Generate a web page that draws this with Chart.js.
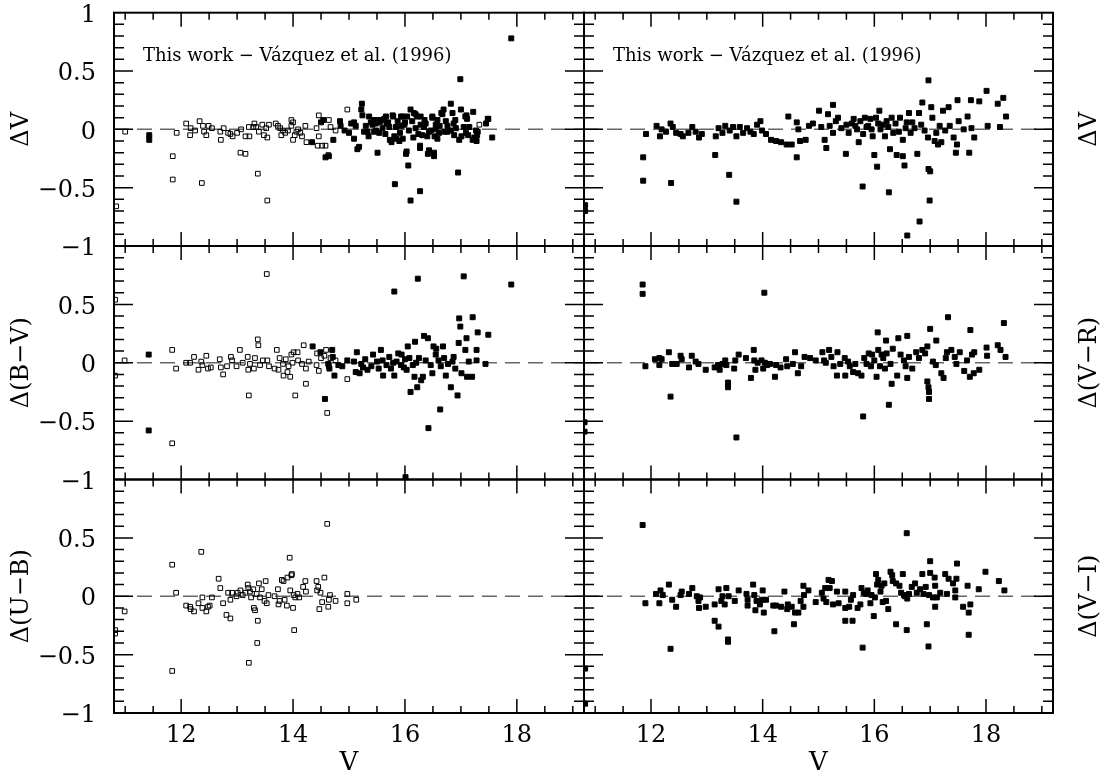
<!DOCTYPE html>
<html>
<head>
<meta charset="utf-8">
<script src="https://cdn.jsdelivr.net/npm/chart.js@4"></script>
<style>
  html, body { margin: 0; padding: 0; background: #fff; }
  #wrap { position: relative; width: 1112px; height: 776px; }
  #wrap canvas { position: absolute; left: 0; top: 0; }
</style>
</head>
<body>
<div id="wrap">
  <canvas id="p1" width="1112" height="776"></canvas>
  <canvas id="p2" width="1112" height="776"></canvas>
  <canvas id="p3" width="1112" height="776"></canvas>
  <canvas id="p4" width="1112" height="776"></canvas>
  <canvas id="p5" width="1112" height="776"></canvas>
  <canvas id="p6" width="1112" height="776"></canvas>
</div>
<script>
// axis ranges and ticks
const xMin = 10.8, xMax = 19.2;
const xMajor = [12, 14, 16, 18];
const xMinor = [11, 11.5, 12.5, 13, 13.5, 14.5, 15, 15.5, 16.5, 17, 17.5, 18.5, 19];
const yMajor = [-0.5, 0, 0.5];
const yMinor = [-0.9, -0.8, -0.7, -0.6, -0.4, -0.3, -0.2, -0.1, 0.1, 0.2, 0.3, 0.4, 0.6, 0.7, 0.8, 0.9];

const noteText = 'This work \u2212 V\u00e1zquez et al. (1996)';
const leftTitles = ['\u0394V', '\u0394(B\u2212V)', '\u0394(U\u2212B)'];
const rightTitles = ['\u0394V', '\u0394(V\u2212R)', '\u0394(V\u2212I)'];
const xTitle = 'V';

// [V, delta] pairs
// top left: Delta V (open = one sample, filled = other)
const dvLeftOpen = [[10.84,-0.66],[11.00,-0.02],[11.85,-0.23],[11.85,-0.43],[11.92,-0.03],[12.09,0.05],[12.16,-0.05],[12.17,0.01],[12.25,-0.01],[12.33,0.07],[12.37,-0.46],[12.39,0.03],[12.41,-0.02],[12.45,-0.05],[12.49,0.03],[12.55,0.01],[12.70,-0.02],[12.71,-0.09],[12.76,0.01],[12.84,-0.03],[12.88,-0.04],[12.92,-0.06],[13.00,-0.03],[13.07,0.0],[13.06,-0.20],[13.15,-0.21],[13.15,-0.06],[13.21,0.02],[13.22,-0.06],[13.29,0.02],[13.31,0.05],[13.34,0.02],[13.37,-0.38],[13.39,-0.02],[13.45,0.04],[13.48,-0.05],[13.52,0.01],[13.54,-0.07],[13.54,-0.61],[13.57,0.04],[13.69,0.05],[13.73,0.03],[13.77,0.01],[13.79,-0.05],[13.82,-0.01],[13.86,-0.03],[13.91,-0.01],[13.97,0.08],[13.97,0.03],[14.00,0.06],[14.00,-0.09],[14.03,-0.05],[14.06,-0.02],[14.09,0.0],[14.13,-0.03],[14.16,-0.06],[14.22,0.03],[14.24,-0.11],[14.42,0.01],[14.46,0.12],[14.46,-0.06],[14.44,-0.14],[14.52,-0.14],[14.58,-0.14],[14.64,0.08],[14.67,0.02],[14.63,-0.22],[14.97,0.17],[14.76,-0.01],[17.33,0.04]];
const dvLeftFilled = [[11.43,-0.05],[11.43,-0.09],[14.34,-0.11],[14.58,-0.24],[14.64,-0.23],[14.72,-0.09],[14.50,0.06],[14.54,0.08],[14.84,0.07],[14.85,0.03],[14.92,-0.01],[15.00,-0.03],[15.04,0.05],[15.09,0.06],[15.12,0.03],[15.09,-0.08],[15.15,-0.17],[15.18,-0.15],[15.22,0.17],[15.23,0.22],[15.24,0.12],[15.27,-0.02],[15.30,0.03],[15.33,-0.02],[15.35,-0.06],[15.36,0.11],[15.39,0.06],[15.42,0.04],[15.45,-0.02],[15.45,0.08],[15.48,-0.01],[15.48,0.05],[15.51,0.08],[15.51,-0.20],[15.54,-0.03],[15.55,0.06],[15.57,0.08],[15.60,0.01],[15.63,0.09],[15.65,-0.04],[15.66,0.11],[15.67,0.05],[15.70,0.06],[15.72,0.02],[15.73,-0.09],[15.76,-0.11],[15.78,0.12],[15.79,0.11],[15.81,-0.06],[15.82,-0.47],[15.84,0.02],[15.85,-0.08],[15.87,0.07],[15.90,-0.10],[15.91,-0.03],[15.93,0.11],[15.94,0.03],[15.96,0.11],[15.96,-0.08],[15.99,0.04],[16.00,0.06],[16.02,-0.21],[16.03,-0.19],[16.04,0.11],[16.06,-0.31],[16.07,-0.01],[16.10,0.17],[16.10,-0.61],[16.13,0.07],[16.15,-0.07],[16.16,0.14],[16.19,0.01],[16.19,0.13],[16.22,0.11],[16.24,-0.04],[16.27,-0.16],[16.27,-0.14],[16.27,-0.53],[16.28,0.04],[16.28,0.11],[16.31,-0.05],[16.34,0.02],[16.35,0.08],[16.37,0.05],[16.40,-0.06],[16.41,-0.21],[16.43,-0.02],[16.43,-0.18],[16.46,-0.01],[16.49,0.11],[16.49,0.10],[16.52,-0.23],[16.52,-0.20],[16.53,-0.06],[16.55,0.04],[16.55,0.0],[16.58,0.08],[16.58,-0.08],[16.61,-0.03],[16.62,0.03],[16.65,0.14],[16.67,0.13],[16.69,0.17],[16.71,-0.02],[16.73,0.07],[16.76,0.03],[16.76,-0.02],[16.82,0.22],[16.82,-0.01],[16.85,0.14],[16.87,0.05],[16.88,-0.05],[16.90,0.08],[16.91,0.01],[16.95,-0.37],[16.97,-0.09],[16.99,0.43],[17.00,0.17],[17.01,-0.06],[17.05,0.02],[17.08,0.11],[17.09,-0.03],[17.10,0.12],[17.11,0.09],[17.13,-0.05],[17.15,0.02],[17.21,-0.09],[17.22,0.15],[17.24,-0.07],[17.27,-0.01],[17.28,-0.10],[17.29,-0.05],[17.30,-0.02],[17.45,0.05],[17.48,0.09],[17.49,0.09],[17.56,-0.07],[17.90,0.78]];

// top right: Delta V
const dvRight = [[10.82,-0.65],[10.82,-0.70],[11.86,-0.24],[11.86,-0.44],[11.91,-0.04],[12.10,0.03],[12.16,-0.06],[12.19,0.0],[12.27,-0.02],[12.35,0.05],[12.36,-0.46],[12.39,0.02],[12.45,-0.03],[12.53,-0.04],[12.57,-0.06],[12.67,-0.03],[12.74,0.02],[12.80,-0.02],[12.86,-0.07],[12.91,-0.04],[13.15,-0.22],[13.16,-0.06],[13.21,0.01],[13.28,-0.03],[13.33,0.03],[13.40,-0.39],[13.41,-0.01],[13.47,0.02],[13.53,-0.62],[13.53,-0.06],[13.59,0.02],[13.65,-0.03],[13.72,0.01],[13.78,-0.02],[13.84,-0.04],[13.90,0.04],[13.96,0.07],[13.99,-0.01],[14.06,-0.04],[14.15,-0.09],[14.24,-0.10],[14.33,-0.11],[14.43,-0.13],[14.46,0.11],[14.52,-0.13],[14.61,-0.24],[14.64,0.0],[14.61,0.06],[14.67,-0.10],[14.77,-0.09],[14.83,0.03],[14.90,0.05],[15.01,0.16],[15.05,0.02],[15.11,-0.09],[15.14,-0.16],[15.17,0.13],[15.20,0.03],[15.26,0.21],[15.26,-0.03],[15.31,0.07],[15.35,0.10],[15.41,0.01],[15.49,-0.21],[15.50,0.04],[15.54,-0.03],[15.60,0.05],[15.63,0.09],[15.66,0.03],[15.69,0.0],[15.72,-0.11],[15.75,0.07],[15.79,-0.49],[15.80,-0.04],[15.83,0.10],[15.86,0.02],[15.89,0.03],[15.93,0.09],[15.95,0.0],[15.97,-0.06],[16.00,-0.22],[16.03,0.10],[16.05,-0.32],[16.07,0.05],[16.09,0.16],[16.11,0.0],[16.15,0.04],[16.19,-0.06],[16.22,0.07],[16.25,0.02],[16.26,-0.54],[16.28,-0.17],[16.31,0.10],[16.34,-0.03],[16.38,0.05],[16.40,-0.22],[16.44,-0.02],[16.46,0.10],[16.51,-0.23],[16.51,-0.09],[16.54,-0.31],[16.56,0.01],[16.58,0.06],[16.59,-0.91],[16.62,0.14],[16.65,-0.03],[16.68,0.06],[16.72,0.01],[16.77,-0.21],[16.80,0.14],[16.81,-0.79],[16.84,0.04],[16.86,0.23],[16.90,-0.01],[16.96,-0.07],[16.97,0.42],[16.97,-0.34],[17.00,-0.36],[16.99,-0.61],[17.02,0.19],[17.04,0.10],[17.08,-0.10],[17.11,-0.03],[17.14,-0.13],[17.17,0.03],[17.20,-0.11],[17.23,0.16],[17.27,-0.01],[17.33,0.19],[17.35,0.03],[17.42,-0.07],[17.46,-0.20],[17.48,-0.13],[17.49,0.25],[17.51,0.07],[17.60,0.0],[17.67,0.11],[17.70,-0.20],[17.73,0.25],[17.74,0.01],[17.79,-0.07],[17.88,0.24],[18.01,0.33],[18.03,0.03],[18.21,0.22],[18.25,0.02],[18.31,0.27],[18.36,0.11]];

// middle left: Delta(B-V)
const dbvOpen = [[10.82,0.54],[10.82,-0.11],[10.99,0.02],[11.84,0.11],[11.84,-0.69],[11.91,-0.05],[12.09,0.0],[12.16,0.0],[12.23,0.05],[12.31,-0.06],[12.36,0.01],[12.38,-0.02],[12.45,0.06],[12.48,-0.05],[12.53,-0.04],[12.69,0.03],[12.71,-0.04],[12.75,-0.10],[12.82,-0.03],[12.89,0.05],[12.91,0.02],[12.99,-0.03],[13.05,0.11],[13.10,0.0],[13.19,0.05],[13.20,-0.06],[13.21,-0.28],[13.23,-0.01],[13.30,-0.05],[13.32,0.04],[13.37,0.20],[13.38,0.15],[13.41,-0.02],[13.46,0.02],[13.53,0.76],[13.54,0.02],[13.57,-0.03],[13.67,-0.05],[13.71,0.11],[13.74,-0.06],[13.76,0.04],[13.82,-0.01],[13.83,-0.11],[13.87,0.03],[13.90,-0.08],[13.92,-0.03],[13.95,-0.12],[13.97,0.07],[13.99,0.0],[14.01,0.09],[14.04,-0.28],[14.08,0.09],[14.09,0.02],[14.16,-0.01],[14.19,0.15],[14.23,-0.18],[14.23,-0.05],[14.28,0.01],[14.42,-0.02],[14.43,0.08],[14.46,-0.07],[14.50,0.04],[14.56,0.06],[14.59,0.11],[14.61,-0.43],[14.64,-0.03],[14.67,0.04],[14.76,0.02],[14.97,-0.14]];
const dbvFilled = [[11.42,0.07],[11.42,-0.58],[14.35,0.14],[14.49,0.09],[14.57,-0.31],[14.63,-0.01],[14.65,-0.05],[14.70,0.11],[14.71,0.05],[14.74,-0.11],[14.81,-0.02],[14.88,-0.03],[14.97,0.02],[15.09,0.01],[15.12,-0.08],[15.14,0.09],[15.19,-0.09],[15.22,-0.01],[15.25,-0.04],[15.29,0.03],[15.33,-0.06],[15.40,-0.03],[15.43,0.07],[15.50,0.01],[15.53,-0.05],[15.57,0.11],[15.60,0.02],[15.61,-0.11],[15.67,-0.02],[15.72,0.05],[15.75,-0.05],[15.79,0.0],[15.81,-0.11],[15.81,0.61],[15.85,0.01],[15.88,0.08],[15.93,-0.02],[15.94,0.07],[15.98,-0.04],[16.00,0.03],[16.01,-0.98],[16.03,-0.06],[16.05,0.14],[16.08,0.04],[16.10,-0.25],[16.14,-0.02],[16.17,-0.12],[16.18,0.18],[16.20,0.0],[16.22,-0.21],[16.23,0.72],[16.25,0.04],[16.29,-0.15],[16.32,-0.12],[16.34,0.23],[16.37,0.02],[16.41,0.21],[16.42,-0.56],[16.46,-0.02],[16.49,-0.09],[16.51,0.14],[16.55,0.07],[16.56,0.12],[16.60,0.02],[16.63,-0.40],[16.64,-0.03],[16.68,0.14],[16.70,0.04],[16.73,-0.11],[16.77,-0.01],[16.82,-0.21],[16.85,0.01],[16.87,0.05],[16.90,-0.05],[16.94,-0.28],[16.96,0.17],[16.97,0.38],[16.99,0.31],[17.01,-0.09],[17.05,0.74],[17.08,0.11],[17.10,0.21],[17.11,-0.12],[17.14,0.01],[17.20,-0.12],[17.21,0.39],[17.28,0.02],[17.28,0.11],[17.30,0.26],[17.44,-0.01],[17.49,0.24],[17.90,0.67]];

// middle right: Delta(V-R)
const dvr = [[10.81,-0.51],[10.81,-0.59],[11.85,0.67],[11.85,0.59],[11.90,-0.03],[12.07,0.03],[12.15,0.04],[12.15,-0.02],[12.19,0.03],[12.32,0.09],[12.35,-0.29],[12.38,-0.01],[12.46,-0.01],[12.53,0.06],[12.55,0.03],[12.68,-0.04],[12.73,0.06],[12.80,0.01],[12.85,-0.01],[12.98,-0.06],[13.14,-0.04],[13.20,-0.02],[13.23,-0.06],[13.28,-0.01],[13.33,0.02],[13.35,-0.02],[13.38,-0.17],[13.38,-0.21],[13.49,-0.05],[13.51,0.02],[13.53,-0.64],[13.57,0.07],[13.70,0.04],[13.79,-0.13],[13.84,0.11],[13.85,0.02],[13.87,-0.06],[13.91,0.0],[13.98,0.02],[14.01,-0.05],[14.03,0.60],[14.04,0.0],[14.08,-0.02],[14.13,-0.01],[14.22,-0.12],[14.24,-0.02],[14.32,-0.04],[14.42,0.03],[14.44,-0.03],[14.54,-0.01],[14.58,0.09],[14.63,-0.09],[14.69,-0.03],[14.75,0.05],[14.85,0.04],[14.95,0.02],[15.07,0.09],[15.10,0.02],[15.13,0.0],[15.19,0.11],[15.23,0.05],[15.27,-0.03],[15.33,-0.11],[15.34,0.09],[15.39,-0.01],[15.47,0.04],[15.48,-0.11],[15.53,0.01],[15.56,-0.03],[15.62,-0.08],[15.66,-0.01],[15.71,-0.09],[15.77,-0.11],[15.80,-0.46],[15.82,0.04],[15.86,-0.01],[15.90,0.08],[15.94,-0.03],[15.96,0.07],[16.00,0.02],[16.04,-0.12],[16.06,0.26],[16.07,0.11],[16.10,-0.03],[16.13,0.07],[16.16,0.04],[16.19,-0.05],[16.21,0.19],[16.22,0.08],[16.26,-0.36],[16.29,-0.01],[16.31,-0.18],[16.33,0.12],[16.41,-0.11],[16.43,0.21],[16.47,0.07],[16.53,0.02],[16.56,-0.03],[16.59,0.23],[16.59,-0.13],[16.62,0.05],[16.68,-0.05],[16.75,0.09],[16.80,0.04],[16.86,0.11],[16.91,0.08],[16.95,0.14],[16.95,-0.16],[16.97,-0.21],[16.98,-0.31],[16.98,-0.25],[17.00,0.29],[17.05,0.01],[17.10,-0.02],[17.11,0.19],[17.20,-0.09],[17.24,-0.13],[17.28,0.04],[17.30,0.09],[17.32,0.39],[17.38,0.11],[17.44,0.05],[17.47,-0.01],[17.53,0.09],[17.61,-0.07],[17.66,0.02],[17.71,-0.12],[17.72,0.28],[17.75,0.07],[17.78,-0.09],[17.79,0.09],[17.88,-0.06],[18.01,0.13],[18.02,0.06],[18.21,0.15],[18.26,0.11],[18.32,0.34],[18.35,0.05]];

// bottom left: Delta(U-B)
const dubOpen = [[10.82,-0.29],[10.82,-0.32],[10.99,-0.13],[11.84,0.27],[11.84,-0.64],[11.91,0.03],[12.09,-0.08],[12.16,-0.09],[12.17,-0.11],[12.23,-0.13],[12.31,-0.06],[12.36,0.38],[12.38,-0.01],[12.38,-0.10],[12.45,-0.13],[12.48,-0.09],[12.51,-0.08],[12.55,-0.01],[12.67,0.15],[12.70,0.07],[12.75,-0.06],[12.81,-0.16],[12.84,0.03],[12.88,-0.19],[12.88,-0.03],[12.91,0.03],[12.99,0.0],[13.01,0.03],[13.06,0.05],[13.10,0.01],[13.15,0.03],[13.19,0.10],[13.20,0.07],[13.21,-0.57],[13.23,0.04],[13.25,-0.01],[13.29,0.06],[13.30,-0.10],[13.32,-0.12],[13.35,0.02],[13.36,-0.40],[13.37,-0.21],[13.39,0.11],[13.41,-0.01],[13.44,0.06],[13.49,-0.04],[13.51,0.13],[13.53,-0.06],[13.56,0.01],[13.67,0.0],[13.73,0.06],[13.74,-0.07],[13.76,-0.04],[13.80,0.14],[13.83,0.13],[13.85,-0.03],[13.89,-0.08],[13.90,0.16],[13.94,0.33],[13.95,0.05],[13.97,0.18],[13.98,0.19],[14.00,-0.10],[14.01,0.01],[14.02,-0.29],[14.04,-0.01],[14.08,0.02],[14.11,-0.01],[14.18,0.08],[14.22,0.13],[14.23,0.04],[14.42,0.13],[14.43,0.05],[14.45,0.08],[14.47,-0.11],[14.49,0.03],[14.52,-0.05],[14.56,0.16],[14.61,0.62],[14.63,-0.09],[14.64,-0.03],[14.66,0.01],[14.76,-0.04],[14.97,0.02],[14.97,-0.06],[15.13,-0.03]];

// bottom right: Delta(V-I)
const dvi = [[10.82,-0.62],[10.82,-0.92],[11.85,0.61],[11.90,-0.06],[12.09,0.02],[12.15,-0.06],[12.17,0.05],[12.21,0.01],[12.32,0.10],[12.35,-0.45],[12.38,-0.03],[12.45,-0.09],[12.53,0.01],[12.55,0.04],[12.68,0.02],[12.74,0.07],[12.82,0.0],[12.85,-0.04],[12.86,-0.10],[12.88,-0.01],[12.98,-0.09],[13.14,-0.07],[13.14,-0.21],[13.21,0.06],[13.21,-0.26],[13.26,-0.04],[13.28,0.0],[13.32,-0.07],[13.35,0.07],[13.38,-0.37],[13.38,-0.39],[13.39,0.0],[13.50,-0.04],[13.57,0.05],[13.71,0.02],[13.73,-0.03],[13.73,-0.08],[13.83,0.10],[13.85,0.01],[13.87,-0.12],[13.89,-0.04],[13.95,-0.07],[13.99,-0.03],[14.00,0.05],[14.02,-0.14],[14.06,-0.03],[14.19,-0.08],[14.21,-0.30],[14.24,-0.08],[14.33,-0.09],[14.39,0.04],[14.44,-0.11],[14.45,-0.07],[14.52,-0.09],[14.56,-0.24],[14.58,-0.14],[14.64,-0.14],[14.68,-0.04],[14.73,0.09],[14.73,-0.09],[14.74,0.01],[14.82,0.05],[14.95,-0.05],[15.06,0.03],[15.09,-0.02],[15.12,0.07],[15.14,-0.05],[15.18,0.14],[15.20,0.07],[15.24,0.13],[15.26,-0.07],[15.33,0.04],[15.36,-0.06],[15.48,0.04],[15.48,-0.10],[15.48,-0.21],[15.55,-0.09],[15.58,-0.03],[15.61,-0.21],[15.62,0.01],[15.70,-0.10],[15.75,-0.07],[15.77,0.07],[15.79,-0.44],[15.81,0.03],[15.85,0.02],[15.88,0.05],[15.93,-0.06],[15.95,0.01],[15.99,-0.17],[16.01,-0.01],[16.03,0.19],[16.05,0.10],[16.07,0.14],[16.11,0.04],[16.13,0.09],[16.15,-0.05],[16.18,0.11],[16.21,-0.04],[16.25,-0.11],[16.29,0.21],[16.32,0.18],[16.33,0.13],[16.39,-0.24],[16.39,0.11],[16.45,0.09],[16.48,0.03],[16.51,0.19],[16.53,0.01],[16.55,0.0],[16.58,0.54],[16.58,-0.29],[16.59,-0.02],[16.62,0.02],[16.67,0.08],[16.73,0.11],[16.76,0.03],[16.82,0.06],[16.86,0.19],[16.88,0.02],[16.92,0.08],[16.94,-0.24],[16.97,-0.43],[16.98,0.01],[17.00,0.30],[17.00,0.20],[17.05,-0.01],[17.08,0.16],[17.09,-0.09],[17.09,0.09],[17.12,-0.01],[17.18,0.03],[17.27,0.19],[17.30,0.02],[17.33,0.15],[17.41,0.11],[17.45,-0.01],[17.45,0.05],[17.47,0.15],[17.48,0.28],[17.59,-0.09],[17.67,0.09],[17.69,-0.14],[17.69,-0.33],[17.72,-0.07],[17.87,0.06],[17.99,0.21],[18.23,0.13],[18.33,0.05]];

// panel boxes in page pixels
const cols = [{ left: 114, right: 584 }, { left: 584, right: 1053 }];
const rows = [{ top: 12.7, bottom: 246 }, { top: 246, bottom: 479.5 }, { top: 479.5, bottom: 713 }];
const W = 1112, H = 776;
const FONT = '"DejaVu Serif", "Liberation Serif", serif';

const pts = arr => arr.map(([x, y]) => ({ x, y }));
const minusFmt = v => String(v).replace('-', '\u2212');

function openSet(arr) {
  return {
    data: pts(arr), pointStyle: 'rect', pointRadius: 3.3, pointBorderWidth: 1,
    pointBorderColor: '#000', pointBackgroundColor: 'rgba(255,255,255,0)'
  };
}
function filledSet(arr) {
  return {
    data: pts(arr), pointStyle: 'rect', pointRadius: 3.5, pointBorderWidth: 1,
    pointBorderColor: '#000', pointBackgroundColor: '#000'
  };
}

// frame, inward ticks, dashed zero line, notes
const framePlugin = {
  id: 'frame',
  beforeDatasetsDraw(chart) {
    const { ctx, chartArea: a, scales: { y } } = chart;
    const y0 = y.getPixelForValue(0);
    ctx.save();
    ctx.strokeStyle = '#666';
    ctx.lineWidth = 1.5;
    ctx.setLineDash([15, 8]);
    ctx.beginPath();
    ctx.moveTo(a.left, y0);
    ctx.lineTo(a.right, y0);
    ctx.stroke();
    ctx.restore();
  },
  afterDatasetsDraw(chart, args, opts) {
    const { ctx, chartArea: a, scales: { x, y } } = chart;
    ctx.save();
    ctx.strokeStyle = '#000';
    ctx.lineWidth = 1.5;
    ctx.beginPath();
    const vTick = (v, len) => {
      const px = x.getPixelForValue(v);
      ctx.moveTo(px, a.bottom); ctx.lineTo(px, a.bottom - len);
      ctx.moveTo(px, a.top); ctx.lineTo(px, a.top + len);
    };
    const hTick = (v, len) => {
      const py = y.getPixelForValue(v);
      ctx.moveTo(a.left, py); ctx.lineTo(a.left + len, py);
      ctx.moveTo(a.right, py); ctx.lineTo(a.right - len, py);
    };
    xMajor.forEach(v => vTick(v, 14));
    xMinor.forEach(v => vTick(v, 7));
    yMajor.forEach(v => hTick(v, 19));
    yMinor.forEach(v => hTick(v, 10));
    ctx.stroke();
    ctx.lineWidth = 2;
    ctx.strokeRect(a.left, a.top, a.right - a.left, a.bottom - a.top);

    ctx.fillStyle = '#000';
    if (opts.note) {
      ctx.font = '18px ' + FONT;
      ctx.textAlign = 'left';
      ctx.textBaseline = 'alphabetic';
      ctx.fillText(noteText, a.left + 29, a.top + 48);
    }
    if (opts.rightTitle) {
      ctx.font = '24px ' + FONT;
      ctx.textAlign = 'center';
      ctx.textBaseline = 'middle';
      ctx.translate(1090, (a.top + a.bottom) / 2);
      ctx.rotate(-Math.PI / 2);
      ctx.fillText(opts.rightTitle, 0, 0);
    }
    ctx.restore();
  }
};

function makePanel(id, col, row, datasets) {
  const c = cols[col], r = rows[row];
  const bottomRow = row === 2;
  new Chart(document.getElementById(id), {
    type: 'scatter',
    data: { datasets },
    plugins: [framePlugin],
    options: {
      responsive: false,
      animation: false,
      events: [],
      layout: {
        padding: {
          left: col === 0 ? 0 : c.left,
          right: W - c.right,
          top: r.top,
          bottom: bottomRow ? 0 : H - r.bottom
        }
      },
      plugins: {
        legend: { display: false },
        tooltip: { enabled: false },
        frame: { note: row === 0, rightTitle: col === 1 ? rightTitles[row] : null }
      },
      scales: {
        x: {
          type: 'linear', min: xMin, max: xMax,
          display: bottomRow,
          afterFit(s) {
            if (bottomRow) s.height = 63;
            s.paddingLeft = 0; s.paddingRight = 0;
          },
          grid: { display: false, drawTicks: false },
          border: { display: false },
          ticks: {
            stepSize: 2, includeBounds: false, autoSkip: false, maxRotation: 0,
            padding: 11, color: '#000', font: { family: FONT, size: 24, lineHeight: 1 }
          },
          title: {
            display: true, text: xTitle, color: '#000', padding: 0,
            font: { family: FONT, size: 26, lineHeight: 1 }
          }
        },
        y: {
          type: 'linear', min: -1, max: 1,
          display: col === 0,
          afterFit(s) {
            if (col === 0) s.width = 114;
            s.paddingTop = 0; s.paddingBottom = 0;
          },
          grid: { display: false, drawTicks: false },
          border: { display: false },
          ticks: {
            stepSize: 0.5, autoSkip: false, padding: 18, labelOffset: 3, color: '#000',
            font: { family: FONT, size: 24, lineHeight: 1 },
            callback: v => (row > 0 && v === 1) ? '' : minusFmt(v)
          },
          title: {
            display: true, text: leftTitles[row], color: '#000',
            padding: { top: 10, bottom: 0 },
            font: { family: FONT, size: 24, lineHeight: 1 }
          }
        }
      }
    }
  });
}

makePanel('p1', 0, 0, [openSet(dvLeftOpen), filledSet(dvLeftFilled)]);
makePanel('p2', 1, 0, [filledSet(dvRight)]);
makePanel('p3', 0, 1, [openSet(dbvOpen), filledSet(dbvFilled)]);
makePanel('p4', 1, 1, [filledSet(dvr)]);
makePanel('p5', 0, 2, [openSet(dubOpen)]);
makePanel('p6', 1, 2, [filledSet(dvi)]);
</script>
</body>
</html>
